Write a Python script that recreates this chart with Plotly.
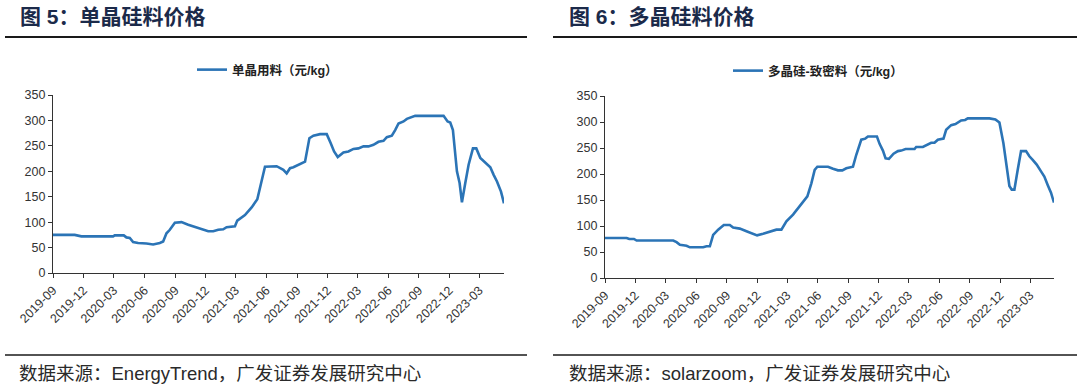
import plotly.graph_objects as go

# ---- Data: 单晶用料 (元/kg), EnergyTrend ----
mono_dates = [
    "2019-09-01", "2019-11-05", "2019-11-25", "2020-02-28", "2020-03-04", "2020-03-31",
    "2020-04-08", "2020-04-18", "2020-04-28", "2020-05-13", "2020-06-07", "2020-06-27",
    "2020-07-17", "2020-07-27", "2020-08-06", "2020-08-16", "2020-08-31", "2020-09-20",
    "2020-10-10", "2020-10-25", "2020-11-09", "2020-11-24", "2020-12-09", "2020-12-24",
    "2021-01-08", "2021-01-23", "2021-02-02", "2021-02-27", "2021-03-06", "2021-03-29",
    "2021-04-18", "2021-05-05", "2021-05-18", "2021-05-28", "2021-07-02", "2021-07-12",
    "2021-07-22", "2021-08-01", "2021-08-11", "2021-08-21", "2021-09-05", "2021-09-15",
    "2021-09-25", "2021-10-08", "2021-10-20", "2021-11-09", "2021-11-29", "2021-12-11",
    "2021-12-21", "2022-01-01", "2022-01-18", "2022-02-02", "2022-02-17", "2022-03-04",
    "2022-03-19", "2022-04-03", "2022-04-18", "2022-05-03", "2022-05-18", "2022-05-28",
    "2022-06-12", "2022-06-22", "2022-07-02", "2022-07-17", "2022-07-27", "2022-08-21",
    "2022-11-14", "2022-11-26", "2022-12-04", "2022-12-12", "2022-12-24", "2023-01-01",
    "2023-01-08", "2023-01-18", "2023-01-28", "2023-02-10", "2023-02-20", "2023-03-04",
    "2023-03-19", "2023-04-03", "2023-04-13", "2023-04-23", "2023-05-05", "2023-05-14",
]
mono_prices = [
    75, 75, 72, 72, 74, 74,
    70, 69, 61, 59, 58, 56,
    59, 62, 78, 85, 99, 100,
    95, 92, 88, 85, 82, 82,
    85, 86, 90, 92, 103, 114,
    129, 145, 180, 209, 210, 206,
    203, 196, 206, 208, 213, 217,
    219, 265, 270, 273, 273, 255,
    239, 228, 237, 239, 244, 245,
    249, 249, 252, 258, 260, 267,
    270, 281, 294, 298, 303, 309,
    309, 298, 296, 281, 200, 177,
    139, 177, 213, 245, 245, 226,
    216, 208, 193, 180, 160, 137,
]

# ---- Data: 多晶硅-致密料 (元/kg), solarzoom ----
poly_dates = [
    "2019-09-01", "2019-11-05", "2019-11-13", "2019-11-27", "2019-12-05", "2020-03-24",
    "2020-04-03", "2020-04-13", "2020-04-23", "2020-05-03", "2020-05-13", "2020-06-22",
    "2020-07-02", "2020-07-12", "2020-07-22", "2020-08-06", "2020-08-23", "2020-09-10",
    "2020-09-20", "2020-10-10", "2020-10-30", "2020-11-19", "2020-12-01", "2020-12-19",
    "2021-01-03", "2021-01-18", "2021-01-28", "2021-02-12", "2021-02-27", "2021-03-19",
    "2021-04-08", "2021-05-01", "2021-05-13", "2021-05-23", "2021-05-31", "2021-07-02",
    "2021-07-17", "2021-08-01", "2021-08-14", "2021-08-26", "2021-09-15", "2021-09-25",
    "2021-10-10", "2021-10-22", "2021-10-30", "2021-11-26", "2021-12-04", "2021-12-14",
    "2021-12-22", "2022-01-01", "2022-01-15", "2022-01-28", "2022-02-07", "2022-02-20",
    "2022-03-19", "2022-03-24", "2022-04-13", "2022-04-28", "2022-05-08", "2022-05-18",
    "2022-05-28", "2022-06-14", "2022-06-22", "2022-07-07", "2022-07-20", "2022-08-06",
    "2022-08-18", "2022-08-26", "2022-10-30", "2022-11-17", "2022-11-29", "2022-12-11",
    "2022-12-21", "2022-12-29", "2023-01-05", "2023-01-13", "2023-01-23", "2023-02-02",
    "2023-02-17", "2023-02-27", "2023-03-09", "2023-03-21", "2023-04-03", "2023-04-13",
    "2023-04-23", "2023-05-03", "2023-05-12",
]
poly_prices = [
    77, 77, 75, 75, 72, 72,
    69, 64, 63, 62, 59, 59,
    61, 61, 83, 93, 102, 102,
    97, 95, 90, 85, 82, 85,
    88, 90, 93, 93, 109, 122,
    138, 157, 182, 208, 214, 214,
    210, 207, 207, 211, 214, 237,
    266, 268, 272, 272, 258, 245,
    230, 229, 239, 244, 245, 248,
    248, 252, 252, 256, 260, 260,
    266, 268, 285, 294, 296, 303,
    304, 307, 307, 305, 299, 259,
    214, 177, 170, 170, 208, 244,
    244, 234, 227, 218, 205, 195,
    179, 164, 145,
]

titles = ["图 5：单晶硅料价格", "图 6：多晶硅料价格"]
sources = ["数据来源：EnergyTrend，广发证券发展研究中心", "数据来源：solarzoom，广发证券发展研究中心"]
series_names = ["单晶用料（元/kg）", "多晶硅-致密料（元/kg）"]

W, H = 1080, 386
LINE_COLOR = "#2b74b6"
MIXED = "Liberation Sans, Noto Sans CJK SC"
TICK_FONT = dict(family="Liberation Sans, Arial", size=12.5, color="#333333")


def px_x(v):
    return v / W


def px_y(v):
    return (H - v) / H


fig = go.Figure()
fig.add_trace(go.Scatter(
    x=mono_dates, y=mono_prices, mode="lines", name=series_names[0],
    line=dict(color=LINE_COLOR, width=2.6), xaxis="x", yaxis="y", legend="legend",
))
fig.add_trace(go.Scatter(
    x=poly_dates, y=poly_prices, mode="lines", name=series_names[1],
    line=dict(color=LINE_COLOR, width=2.6), xaxis="x2", yaxis="y2", legend="legend2",
))

common_x = dict(
    type="date", tickformat="%Y-%m", dtick="M3", tick0="2019-09-01",
    tickangle=-45, ticks="outside", ticklen=4, tickcolor="#333333",
    showline=True, linecolor="#333333", linewidth=1.2, showgrid=False,
    zeroline=False, tickfont=TICK_FONT, fixedrange=True, automargin=False,
)
common_y = dict(
    range=[0, 350], dtick=50, ticks="outside", ticklen=4, tickcolor="#333333",
    showline=True, linecolor="#333333", linewidth=1.2, showgrid=False,
    zeroline=False, tickfont=TICK_FONT, fixedrange=True, automargin=False,
)

legend_common = dict(
    orientation="h", yanchor="middle", xanchor="left", itemwidth=30,
    bgcolor="rgba(0,0,0,0)", font=dict(family=MIXED, size=12.5, color="#222222", weight="bold"),
    itemclick=False, itemdoubleclick=False,
)

fig.update_layout(
    width=W, height=H,
    autosize=False,
    margin=dict(l=0, r=0, t=0, b=0, pad=0, autoexpand=False),
    paper_bgcolor="white", plot_bgcolor="white",
    showlegend=True,
    xaxis=dict(domain=[px_x(53), px_x(504)], range=[mono_dates[0], mono_dates[-1]], anchor="y", **common_x),
    yaxis=dict(domain=[px_y(273), px_y(95)], anchor="x", **common_y),
    xaxis2=dict(domain=[px_x(605), px_x(1054)], range=[poly_dates[0], poly_dates[-1]], anchor="y2", **common_x),
    yaxis2=dict(domain=[px_y(278), px_y(96)], anchor="x2", **common_y),
    legend=dict(x=px_x(192), y=px_y(70), **legend_common),
    legend2=dict(x=px_x(728), y=px_y(71), **legend_common),
)

# Titles and sources
for i, (tx, sx) in enumerate([(18, 17), (567, 567)]):
    fig.add_annotation(
        text=titles[i], xref="paper", yref="paper", x=px_x(tx), y=px_y(16),
        xanchor="left", yanchor="middle", showarrow=False,
        font=dict(family=MIXED, size=21, color="#1b2a4a", weight="bold"),
    )
    fig.add_annotation(
        text=sources[i], xref="paper", yref="paper", x=px_x(sx), y=px_y(373),
        xanchor="left", yanchor="middle", showarrow=False,
        font=dict(family=MIXED, size=18.5, color="#2a2a2a"),
    )

# Divider lines
for x0, x1 in [(5, 527), (553, 1077)]:
    fig.add_shape(type="line", xref="paper", yref="paper",
                  x0=px_x(x0), x1=px_x(x1), y0=px_y(37), y1=px_y(37),
                  line=dict(color="#1a1a1a", width=2))
    fig.add_shape(type="line", xref="paper", yref="paper",
                  x0=px_x(x0), x1=px_x(x1), y0=px_y(355), y1=px_y(355),
                  line=dict(color="#1a1a1a", width=1.5))

fig.write_html(
    "out.html",
    config={"displayModeBar": False},
    post_script="document.body.style.margin='0';document.body.style.overflow='hidden';",
)
